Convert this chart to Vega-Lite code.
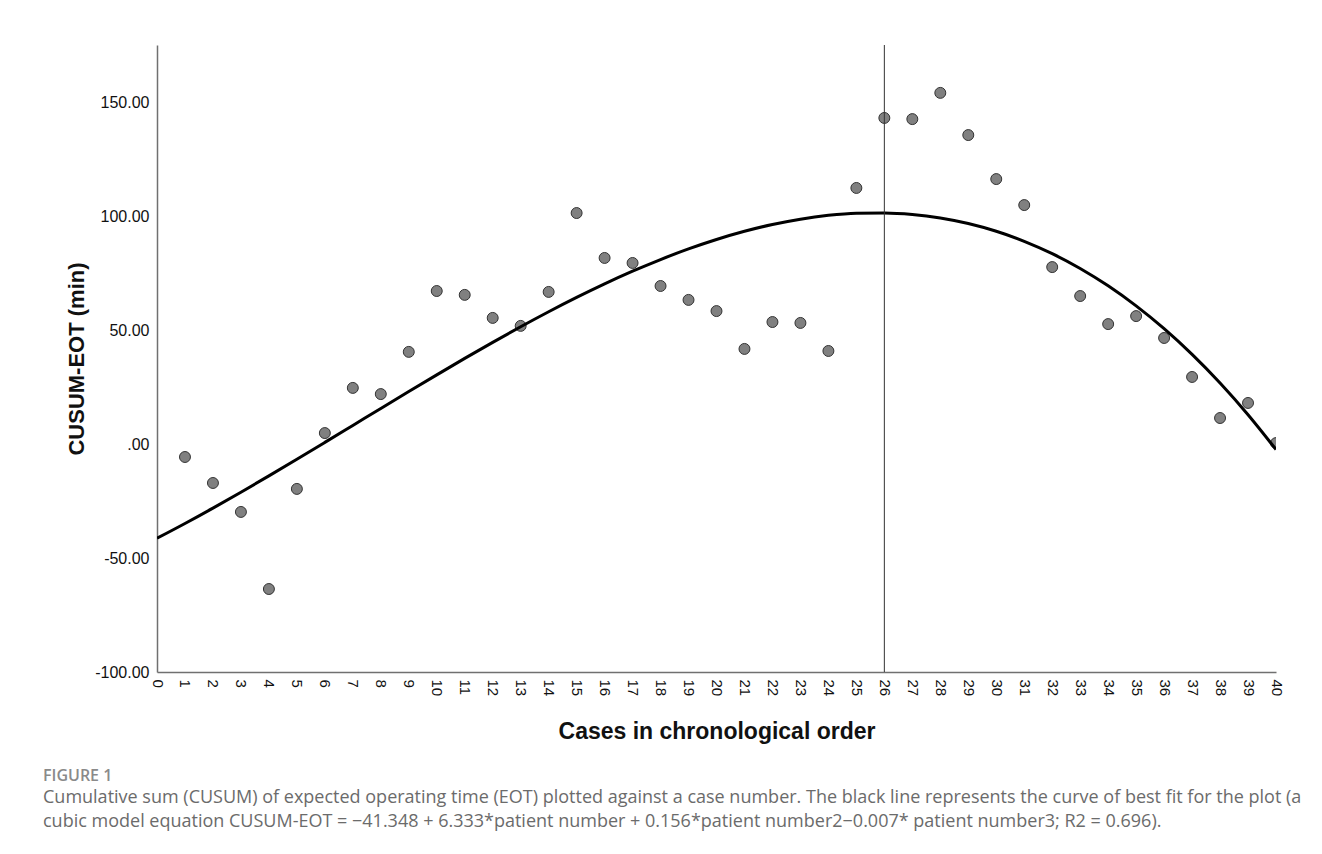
{
  "$schema": "https://vega.github.io/schema/vega-lite/v6.json",
  "width": 1119,
  "height": 627,
  "autosize": {"type": "none"},
  "padding": {"left": 157, "top": 45, "right": 46, "bottom": 182},
  "background": "white",
  "config": {"view": {"stroke": null}, "font": "Liberation Sans", "axis": {"labelOverlap": false}},
  "title": {
    "text": "FIGURE 1",
    "subtitle": [
      "Cumulative sum (CUSUM) of expected operating time (EOT) plotted against a case number. The black line represents the curve of best fit for the plot (a",
      "cubic model equation CUSUM-EOT = −41.348 + 6.333*patient number + 0.156*patient number2−0.007* patient number3; R2 = 0.696)."
    ],
    "orient": "bottom",
    "anchor": "start",
    "frame": "group",
    "dx": -114,
    "offset": 24,
    "font": "Open Sans",
    "fontSize": 16,
    "fontWeight": 600,
    "color": "#8a8a8a",
    "subtitleFont": "Open Sans",
    "subtitleFontSize": 18,
    "subtitleColor": "#6b6b6b",
    "subtitlePadding": 5,
    "subtitleLineHeight": 24
  },
  "datasets": {
    "pts": [
      {"case": 1, "cusum": -5.7}, {"case": 2, "cusum": -17.1}, {"case": 3, "cusum": -29.8},
      {"case": 4, "cusum": -63.6}, {"case": 5, "cusum": -19.7}, {"case": 6, "cusum": 4.8},
      {"case": 7, "cusum": 24.6}, {"case": 8, "cusum": 21.9}, {"case": 9, "cusum": 40.4},
      {"case": 10, "cusum": 67.1}, {"case": 11, "cusum": 65.4}, {"case": 12, "cusum": 55.3},
      {"case": 13, "cusum": 51.8}, {"case": 14, "cusum": 66.7}, {"case": 15, "cusum": 101.3},
      {"case": 16, "cusum": 81.6}, {"case": 17, "cusum": 79.4}, {"case": 18, "cusum": 69.3},
      {"case": 19, "cusum": 63.2}, {"case": 20, "cusum": 58.3}, {"case": 21, "cusum": 41.7},
      {"case": 22, "cusum": 53.5}, {"case": 23, "cusum": 53.1}, {"case": 24, "cusum": 40.8},
      {"case": 25, "cusum": 112.3}, {"case": 26, "cusum": 143.0}, {"case": 27, "cusum": 142.5},
      {"case": 28, "cusum": 154.0}, {"case": 29, "cusum": 135.5}, {"case": 30, "cusum": 116.2},
      {"case": 31, "cusum": 104.8}, {"case": 32, "cusum": 77.6}, {"case": 33, "cusum": 64.9},
      {"case": 34, "cusum": 52.6}, {"case": 35, "cusum": 56.1}, {"case": 36, "cusum": 46.5},
      {"case": 37, "cusum": 29.4}, {"case": 38, "cusum": 11.4}, {"case": 39, "cusum": 18.0},
      {"case": 40, "cusum": 0.4}
    ],
    "curve": [
      {"case": 0, "fit": -41.35}, {"case": 1, "fit": -34.87}, {"case": 2, "fit": -28.12},
      {"case": 3, "fit": -21.14}, {"case": 4, "fit": -13.98}, {"case": 5, "fit": -6.69},
      {"case": 6, "fit": 0.7}, {"case": 7, "fit": 8.14}, {"case": 8, "fit": 15.59},
      {"case": 9, "fit": 23.0}, {"case": 10, "fit": 30.33}, {"case": 11, "fit": 37.54},
      {"case": 12, "fit": 44.58}, {"case": 13, "fit": 51.42}, {"case": 14, "fit": 58.0},
      {"case": 15, "fit": 64.28}, {"case": 16, "fit": 70.22}, {"case": 17, "fit": 75.78},
      {"case": 18, "fit": 80.91}, {"case": 19, "fit": 85.57}, {"case": 20, "fit": 89.71},
      {"case": 21, "fit": 93.3}, {"case": 22, "fit": 96.28}, {"case": 23, "fit": 98.62},
      {"case": 24, "fit": 100.28}, {"case": 25, "fit": 101.2}, {"case": 26, "fit": 101.34},
      {"case": 27, "fit": 100.67}, {"case": 28, "fit": 99.13}, {"case": 29, "fit": 96.69},
      {"case": 30, "fit": 93.29}, {"case": 31, "fit": 88.91}, {"case": 32, "fit": 83.48},
      {"case": 33, "fit": 76.98}, {"case": 34, "fit": 69.36}, {"case": 35, "fit": 60.56},
      {"case": 36, "fit": 50.56}, {"case": 37, "fit": 39.3}, {"case": 38, "fit": 26.75},
      {"case": 39, "fit": 12.85}, {"case": 40, "fit": -2.43}
    ],
    "ref": [{"case": 26}]
  },
  "encoding": {
    "x": {
      "field": "case", "type": "quantitative",
      "scale": {"domain": [0, 40], "nice": false, "zero": false},
      "axis": {
        "values": [0,1,2,3,4,5,6,7,8,9,10,11,12,13,14,15,16,17,18,19,20,21,22,23,24,25,26,27,28,29,30,31,32,33,34,35,36,37,38,39,40],
        "labelAngle": 90, "labelFontSize": 15, "labelColor": "#111111", "labelPadding": 7,
        "labelOverlap": false, "labelFlush": false, "labelBound": false,
        "ticks": false, "grid": false, "domainColor": "#707070", "domainWidth": 1.5,
        "title": "Cases in chronological order", "titleFontSize": 23, "titleFontWeight": "bold",
        "titleColor": "#111111", "titlePadding": 25
      }
    }
  },
  "layer": [
    {
      "data": {"name": "pts"},
      "mark": {"type": "point", "filled": true, "fill": "#808080", "stroke": "#333333", "strokeWidth": 1, "size": 120, "opacity": 1, "clip": true},
      "encoding": {
        "y": {
          "field": "cusum", "type": "quantitative",
          "scale": {"domain": [-100, 175], "nice": false, "zero": false},
          "axis": {
            "values": [-100, -50, 0, 50, 100, 150],
            "labelExpr": "datum.value == 0 ? '.00' : (datum.value < 0 ? '-' : '') + format(abs(datum.value), '.2f')",
            "labelFontSize": 16, "labelColor": "#111111", "labelPadding": 8,
            "labelOverlap": false,
            "ticks": false, "grid": false, "domainColor": "#707070", "domainWidth": 1.5,
            "title": "CUSUM-EOT (min)", "titleFontSize": 22, "titleFontWeight": "bold",
            "titleColor": "#111111", "titlePadding": 6
          }
        }
      }
    },
    {
      "data": {"name": "curve"},
      "mark": {"type": "line", "color": "#000000", "strokeWidth": 3, "interpolate": "monotone", "clip": true},
      "encoding": {
        "y": {"field": "fit", "type": "quantitative"}
      }
    },
    {
      "data": {"name": "ref"},
      "mark": {"type": "rule", "color": "#333333", "strokeWidth": 1},
      "encoding": {}
    }
  ]
}
